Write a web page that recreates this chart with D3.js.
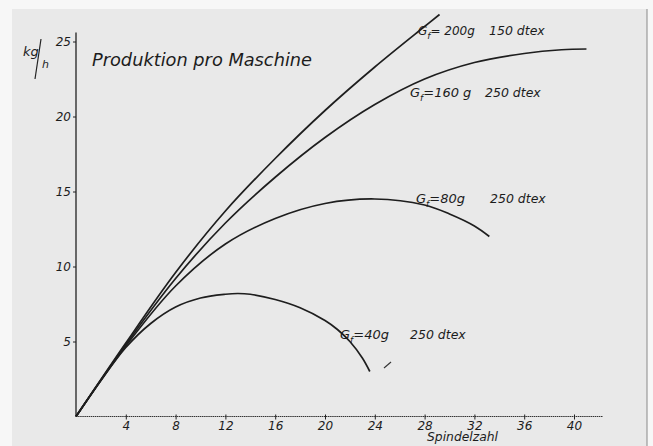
<!DOCTYPE html>
<html>
<head>
<meta charset="utf-8">
<script src="https://cdn.jsdelivr.net/npm/d3@7"></script>
<style>
  body { margin: 0; background: #fff; }
  svg text { font-family: "DejaVu Sans", sans-serif; font-style: italic; fill: #1c1c1c; }
  .tick line { stroke: #222; }
  .tick text { font-size: 12px; }
</style>
</head>
<body>
<div id="chart"></div>
<script>
// x ticks (Spindelzahl) and y ticks (kg/h)
var xTicks = [4, 8, 12, 16, 20, 24, 28, 32, 36, 40];
var yTicks = [5, 10, 15, 20, 25];

// curves, [Spindelzahl, kg/h]
var curve200 = [[0,0],[4,4.9],[8,9.6],[12,13.7],[16,17.2],[20,20.4],[24,23.3],[28,26.0],[29.2,26.8]];
var curve160 = [[0,0],[4,4.8],[8,9.2],[12,12.9],[16,15.95],[20,18.6],[24,20.8],[28,22.5],[32,23.6],[36,24.2],[39,24.45],[41,24.5]];
var curve80  = [[0,0],[4,4.7],[8,8.7],[12,11.5],[16,13.2],[20,14.2],[24,14.5],[28,14.1],[30,13.5],[32,12.7],[33.2,12.0]];
var curve40  = [[0,0],[2,2.4],[4,4.6],[6,6.2],[8,7.3],[10,7.9],[12,8.15],[13,8.2],[14,8.15],[16,7.8],[18,7.25],[20,6.4],[21,5.8],[22,5.0],[23,3.9],[23.6,3.0]];

var labels = [
  { g: "= 200g", dtex: "150 dtex", x: 418, y: 35, dx: 489, size: 12 },
  { g: "=160 g", dtex: "250 dtex", x: 410, y: 97, dx: 485, size: 13 },
  { g: "=80g",  dtex: "250 dtex", x: 416, y: 203, dx: 490, size: 13 },
  { g: "=40g",  dtex: "250 dtex", x: 340, y: 339, dx: 410, size: 13 }
];

var width = 653, height = 446;

var svg = d3.select("#chart").append("svg")
    .attr("width", width)
    .attr("height", height);

// scanned paper look
svg.append("rect").attr("width", width).attr("height", height).attr("fill", "#f7f7f7");
svg.append("rect").attr("x", 12).attr("y", 9).attr("width", 635).attr("height", 437).attr("fill", "#e9e9e9");
svg.append("line").attr("x1", 647).attr("x2", 647).attr("y1", 9).attr("y2", 446)
    .attr("stroke", "#9a9a9a").attr("stroke-width", 1.2);

var x = d3.scaleLinear().domain([0, 40]).range([76, 574]);
var y = d3.scaleLinear().domain([0, 25]).range([416.5, 41.5]);

// axes lines
svg.append("line").attr("x1", x(0)).attr("x2", x(42.3)).attr("y1", y(0)).attr("y2", y(0))
    .attr("stroke", "#333").attr("stroke-width", 1.1).attr("stroke-dasharray", "1.5,0.6");
svg.append("line").attr("x1", x(0)).attr("x2", x(0)).attr("y1", y(0)).attr("y2", y(25.6))
    .attr("stroke", "#222").attr("stroke-width", 1.3);

var xAxis = svg.append("g")
    .attr("transform", "translate(0," + y(0) + ")")
    .call(d3.axisBottom(x).tickValues(xTicks).tickSize(3).tickPadding(4));
xAxis.select(".domain").remove();
xAxis.selectAll(".tick line").attr("y1", -2);
xAxis.selectAll(".tick text").attr("dy", "0.55em").attr("font-size", "12.5px");

var yAxis = svg.append("g")
    .attr("transform", "translate(" + x(0) + ",0)")
    .call(d3.axisLeft(y).tickValues(yTicks).tickSize(3).tickPadding(2));
yAxis.select(".domain").remove();
yAxis.selectAll(".tick text").attr("font-size", "12.5px");

// unit kg/h
svg.append("text").attr("x", 23).attr("y", 56).attr("font-size", "13px").text("kg");
svg.append("line").attr("x1", 41).attr("y1", 39).attr("x2", 35).attr("y2", 79)
    .attr("stroke", "#222").attr("stroke-width", 1.2);
svg.append("text").attr("x", 42).attr("y", 68).attr("font-size", "11px").text("h");

// title
svg.append("text").attr("x", 92).attr("y", 66)
    .attr("font-size", "17px")
    .attr("textLength", 220).attr("lengthAdjust", "spacingAndGlyphs")
    .text("Produktion pro Maschine");

// axis title
svg.append("text").attr("x", 427).attr("y", 441).attr("font-size", "12px")
    .attr("textLength", 71).attr("lengthAdjust", "spacingAndGlyphs")
    .text("Spindelzahl");

// curves
var line = d3.line()
    .x(function (d) { return x(d[0]); })
    .y(function (d) { return y(d[1]); })
    .curve(d3.curveCatmullRom.alpha(0.5));

[curve200, curve160, curve80, curve40].forEach(function (c) {
    svg.append("path")
        .attr("d", line(c))
        .attr("fill", "none")
        .attr("stroke", "#1e1e1e")
        .attr("stroke-width", 1.7);
});

// small stray pen mark from the original drawing
svg.append("line").attr("x1", 384).attr("y1", 368).attr("x2", 391).attr("y2", 362)
    .attr("stroke", "#333").attr("stroke-width", 1.1);

// curve labels
labels.forEach(function (l) {
    var t = svg.append("text").attr("x", l.x).attr("y", l.y).attr("font-size", l.size + "px")
        .attr("xml:space", "preserve").style("white-space", "pre");
    t.append("tspan").text("G");
    t.append("tspan").attr("font-size", "9px").attr("dy", 4).text("f");
    t.append("tspan").attr("dy", -4).text(l.g);
    svg.append("text").attr("x", l.dx).attr("y", l.y).attr("font-size", "12.5px").text(l.dtex);
});
</script>
</body>
</html>
